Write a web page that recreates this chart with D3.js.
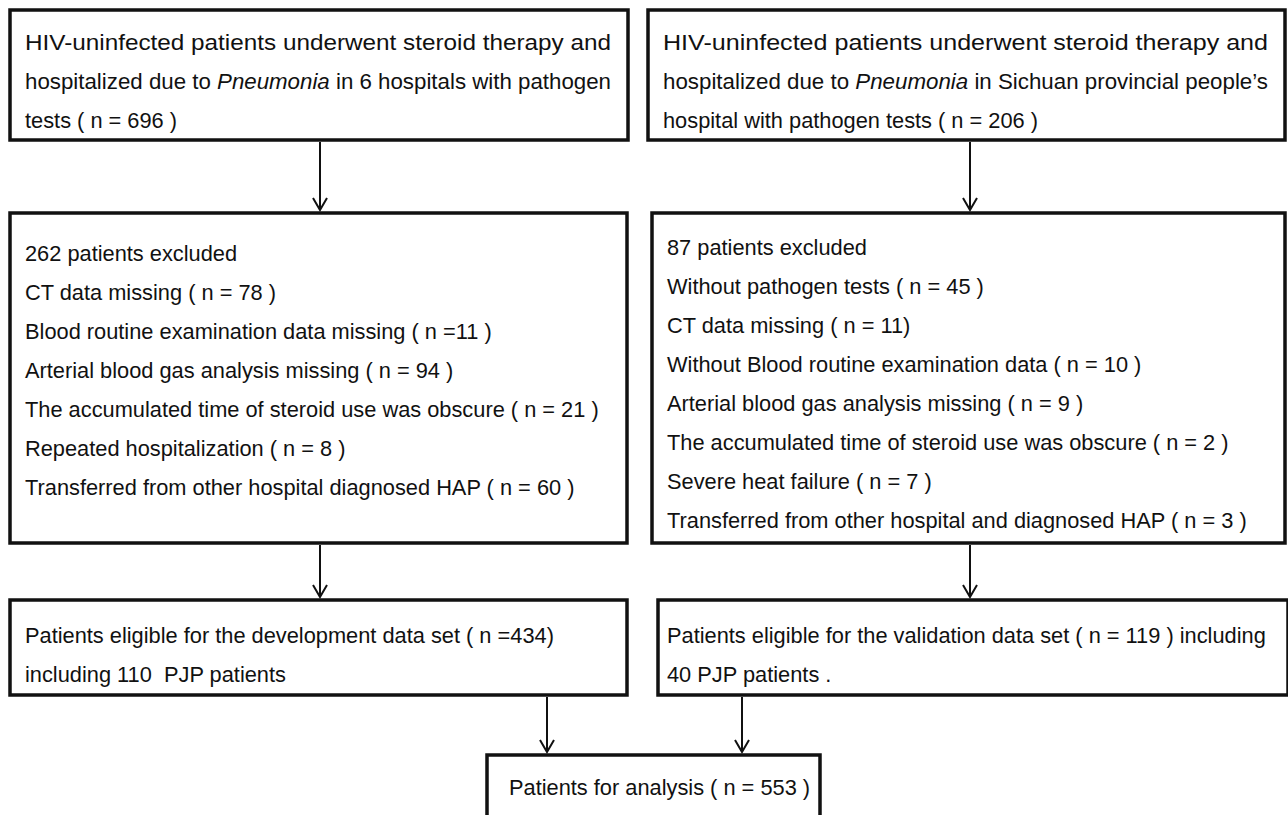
<!DOCTYPE html>
<meta charset="utf-8">
<style>
	body { margin: 0; background: #fff; }
	svg text { font-family: "Liberation Sans", Arial, sans-serif; font-size: 21.8px; fill: #111; white-space: pre; }
</style>
<body>
<svg id="chart"></svg>
<script src="https://cdn.jsdelivr.net/npm/d3@7"></script>
<script>
	// box texts (each entry is a line; {i:..} marks italic part)
	var cohortLeft = [
		["HIV-uninfected patients underwent steroid therapy and"],
		["hospitalized due to ", {i: "Pneumonia"}, " in 6 hospitals with pathogen"],
		["tests ( n = 696 )"]
	];
	var cohortRight = [
		["HIV-uninfected patients underwent steroid therapy and"],
		["hospitalized due to ", {i: "Pneumonia"}, " in Sichuan provincial people\u2019s"],
		["hospital with pathogen tests ( n = 206 )"]
	];
	var excludedLeft = [
		["262 patients excluded"],
		["CT data missing ( n = 78 )"],
		["Blood routine examination data missing ( n =11 )"],
		["Arterial blood gas analysis missing ( n = 94 )"],
		["The accumulated time of steroid use was obscure ( n = 21 )"],
		["Repeated hospitalization ( n = 8 )"],
		["Transferred from other hospital diagnosed HAP ( n = 60 )"]
	];
	var excludedRight = [
		["87 patients excluded"],
		["Without pathogen tests ( n = 45 )"],
		["CT data missing ( n = 11)"],
		["Without Blood routine examination data ( n = 10 )"],
		["Arterial blood gas analysis missing ( n = 9 )"],
		["The accumulated time of steroid use was obscure ( n = 2 )"],
		["Severe heat failure ( n = 7 )"],
		["Transferred from other hospital and diagnosed HAP ( n = 3 )"]
	];
	var eligibleLeft = [
		["Patients eligible for the development data set ( n =434)"],
		["including 110  PJP patients"]
	];
	var eligibleRight = [
		["Patients eligible for the validation data set ( n = 119 ) including"],
		["40 PJP patients ."]
	];
	var analysisLines = [
		["Patients for analysis ( n = 553 )"]
	];

	var width = 1288, height = 815;
	var lineGap = 39;

	// layout (pixel space)
	var boxes = [
		{x: 10, y: 10, w: 618, h: 130, pad: 15, lines: cohortLeft, first: 50, justify: 2},
		{x: 648, y: 10, w: 637, h: 130, pad: 15, lines: cohortRight, first: 50, justify: 2},
		{x: 10, y: 213, w: 617, h: 330, pad: 15, lines: excludedLeft, first: 261, justify: 0},
		{x: 652, y: 213, w: 633, h: 330, pad: 15, lines: excludedRight, first: 255, justify: 0},
		{x: 10, y: 600, w: 617, h: 95, pad: 15, lines: eligibleLeft, first: 643, justify: 0},
		{x: 658, y: 600, w: 630, h: 95, pad: 9, lines: eligibleRight, first: 643, justify: 0},
		{x: 487, y: 755, w: 333, h: 80, pad: 22, lines: analysisLines, first: 795, justify: 0}
	];

	var arrows = [
		{x: 320, y1: 140, y2: 213},
		{x: 970, y1: 140, y2: 213},
		{x: 320, y1: 543, y2: 600},
		{x: 970, y1: 543, y2: 600},
		{x: 547, y1: 695, y2: 755},
		{x: 742, y1: 695, y2: 755}
	];

	var svg = d3.select("#chart")
		.attr("width", width)
		.attr("height", height);

	var g = svg.selectAll("g.box")
		.data(boxes)
		.enter()
		.append("g")
		.attr("class", "box");

	g.append("rect")
		.attr("x", function(d) { return d.x; })
		.attr("y", function(d) { return d.y; })
		.attr("width", function(d) { return d.w; })
		.attr("height", function(d) { return d.h; })
		.attr("fill", "#fff")
		.attr("stroke", "#111")
		.attr("stroke-width", 3.5);

	g.each(function(b) {
		var box = d3.select(this);
		b.lines.forEach(function(parts, k) {
			var t = box.append("text")
				.attr("x", b.x + b.pad)
				.attr("y", b.first + k * lineGap);
			parts.forEach(function(p) {
				if (typeof p === "string") t.append("tspan").text(p);
				else t.append("tspan").style("font-style", "italic").text(p.i);
			});
			// justified lines in the top boxes
			if (k < b.justify) {
				t.attr("textLength", b.w - 2 * b.pad - 2).attr("lengthAdjust", "spacingAndGlyphs");
			}
		});
	});

	var arr = svg.selectAll("g.arrow")
		.data(arrows)
		.enter()
		.append("g")
		.attr("class", "arrow");

	arr.append("line")
		.attr("x1", function(d) { return d.x; })
		.attr("x2", function(d) { return d.x; })
		.attr("y1", function(d) { return d.y1 + 2; })
		.attr("y2", function(d) { return d.y2 - 3; })
		.attr("stroke", "#111")
		.attr("stroke-width", 2);

	arr.append("path")
		.attr("d", function(d) {
			var tip = d.y2 - 3;
			return "M" + (d.x - 7) + "," + (tip - 12) + "L" + d.x + "," + tip + "L" + (d.x + 7) + "," + (tip - 12);
		})
		.attr("fill", "none")
		.attr("stroke", "#111")
		.attr("stroke-width", 2);
</script>
</body>
